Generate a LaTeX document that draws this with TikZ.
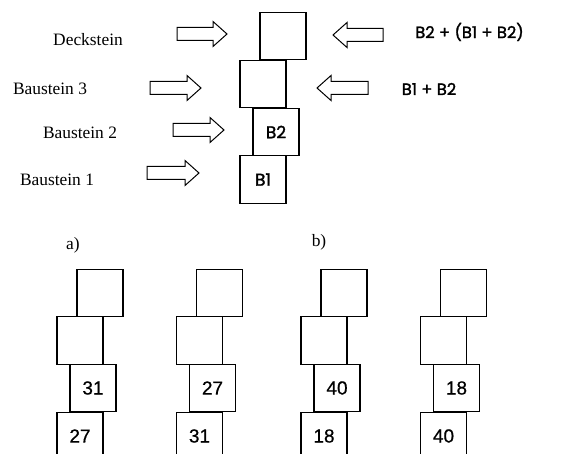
\documentclass[tikz,border=0pt]{standalone}
\usepackage{fontspec}
\setmainfont{Liberation Serif}
\newfontfamily\comicf[FakeBold=1.6]{Poppins}
\newfontfamily\arialf[FakeBold=0.6]{Liberation Sans}
\begin{document}
\begin{tikzpicture}[x=1pt,y=-1pt,
  brick/.style={draw,line width=1.2pt,minimum width=46pt,minimum height=47.7pt,inner sep=0pt},
  lbl/.style={inner sep=0pt,font=\fontsize{17.4}{20}\selectfont},
  cmc/.style={inner sep=0pt,font=\comicf\fontsize{16.3}{19}\selectfont},
  cmcb/.style={inner sep=0pt,font=\comicf\fontsize{17}{20}\selectfont},
  num/.style={font=\arialf\fontsize{19}{22}\selectfont},
  arr/.style={draw,line width=1pt,line join=miter}]
\useasboundingbox (0,0) rectangle (575,454);
\clip (0,0) rectangle (575,454);
% top stack
\node[brick] (deck) at (283,36) {};
\node[brick] (b3) at (263,84) {};
\node[brick,cmcb] (b2) at (276,132) {B2};
\node[brick,cmcb] (b1) at (263,179.5) {B1};
% labels
\node[lbl] (tdeck) at (88,40) {Deckstein};
\node[lbl] (tb3) at (50,89) {Baustein 3};
\node[lbl] (tb2) at (80,133) {Baustein 2};
\node[lbl] (tb1) at (57,180) {Baustein 1};
\node[cmc] (s2) at (469.5,32) {B2 + (B1 + B2)};
\node[cmc] (s1) at (429,89) {B1 + B2};
% arrows: right-pointing (tail x, tip x, y)
\newcommand\ArrR[3]{\draw[arr] (#1,#3-6.5) -- (#2-14,#3-6.5) -- (#2-14,#3-12.5) -- (#2,#3) -- (#2-14,#3+12.5) -- (#2-14,#3+6.5) -- (#1,#3+6.5) -- cycle;}
\newcommand\ArrL[3]{\draw[arr] (#1,#3-6.5) -- (#2+14,#3-6.5) -- (#2+14,#3-12.5) -- (#2,#3) -- (#2+14,#3+12.5) -- (#2+14,#3+6.5) -- (#1,#3+6.5) -- cycle;}
\ArrR{177}{227}{34}
\ArrR{150}{201}{88}
\ArrR{173}{224}{130}
\ArrR{147}{199}{173}
\ArrL{383}{333}{35}
\ArrL{368}{317}{88}
% captions
\node[lbl] (ca) at (73,245) {a)};
\node[lbl] (cb) at (319,242) {b)};
% bottom stacks
\foreach \n/\xb/\up/\lo in {1/80/31/27, 2/199.5/27/31, 3/324/40/18, 4/443.5/18/40}{
  \node[brick] (t\n) at (\xb+20,293) {};
  \node[brick] (m\n) at (\xb,340.5) {};
  \node[brick,num] (u\n) at (\xb+13,388) {\up};
  \node[brick,num] (l\n) at (\xb,436) {\lo};
}
\end{tikzpicture}
\end{document}
